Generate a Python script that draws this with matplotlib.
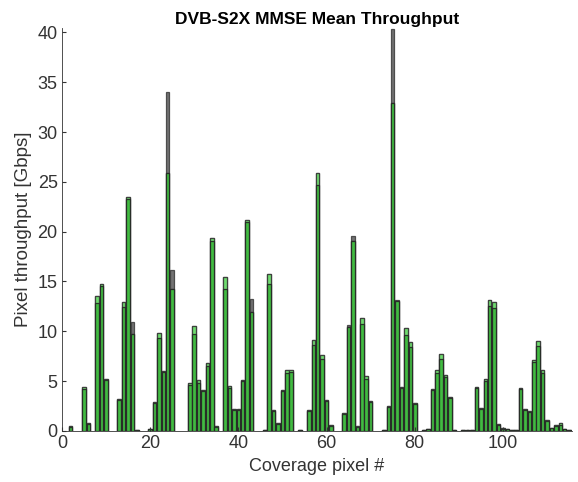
import matplotlib
matplotlib.use('Agg')
import matplotlib.pyplot as plt

# coverage pixels with a visible bar
pixel_ids = [2, 5, 6, 8, 9, 10, 13, 14, 15, 16, 17, 20, 21, 22, 23, 24, 25,
             29, 30, 31, 32, 33, 34, 35, 37, 38, 39, 40, 41, 42, 43,
             46, 47, 48, 49, 50, 51, 52, 54, 56, 57, 58, 59, 60, 61,
             64, 65, 66, 67, 68, 69, 70, 73, 74, 75, 76, 77, 78, 79, 80,
             82, 83, 84, 85, 86, 87, 88, 89, 91, 92, 93, 94, 95, 96, 97, 98, 99,
             100, 101, 102, 103, 104, 105, 106, 107, 108, 109, 110, 111, 112, 113, 114, 115]

# upper bound (gray), light green and green throughput [Gbps]
gray_vals = [0.5, 4.4, 0.8, 13.5, 14.7, 5.2, 3.2, 12.9, 23.5, 10.9, 0.05, 0.2, 2.9, 9.8, 6.0, 34.0, 16.2,
             4.8, 10.5, 5.1, 4.1, 6.8, 19.4, 0.5, 15.4, 4.5, 2.2, 2.2, 5.1, 21.2, 13.2,
             0.1, 15.8, 2.1, 0.8, 4.1, 6.1, 6.1, 0.1, 2.1, 9.1, 25.9, 7.6, 3.1, 0.6,
             1.8, 10.6, 19.6, 0.5, 11.3, 5.5, 3.0, 0.05, 2.5, 40.3, 13.1, 4.4, 10.3, 8.9, 2.8,
             0.05, 0.2, 4.2, 6.1, 7.7, 5.6, 3.4, 0.1, 0.05, 0.05, 0.1, 4.4, 2.3, 5.2, 13.1, 12.9, 0.7,
             0.3, 0.2, 0.1, 0.1, 4.3, 2.2, 2.0, 7.1, 9.0, 6.1, 1.1, 0.3, 0.6, 0.8, 0.2, 0.05]
light_vals = [0.5, 4.4, 0.8, 13.5, 14.7, 5.2, 3.2, 12.9, 23.5, 9.7, 0.05, 0.2, 2.9, 9.8, 6.0, 25.9, 14.2,
              4.8, 10.5, 5.1, 4.1, 6.8, 19.4, 0.5, 15.4, 4.5, 2.2, 2.2, 5.1, 21.2, 11.9,
              0.1, 15.8, 2.1, 0.8, 4.1, 6.1, 6.1, 0.1, 2.1, 9.1, 25.9, 7.6, 3.1, 0.6,
              1.8, 10.4, 19.1, 0.5, 11.3, 5.5, 3.0, 0.05, 2.5, 32.9, 13.0, 4.4, 10.3, 8.9, 2.8,
              0.05, 0.2, 4.2, 6.1, 7.7, 5.6, 3.4, 0.1, 0.05, 0.05, 0.1, 4.4, 2.3, 5.2, 13.1, 12.9, 0.7,
              0.3, 0.2, 0.1, 0.1, 4.3, 2.2, 2.0, 7.1, 9.0, 6.1, 1.1, 0.3, 0.6, 0.8, 0.2, 0.05]
green_vals = [0.4, 4.2, 0.7, 12.8, 14.5, 5.1, 3.1, 12.4, 23.3, 9.7, 0.05, 0.2, 2.8, 9.3, 5.9, 25.9, 14.2,
              4.6, 9.7, 4.8, 4.0, 6.5, 19.1, 0.4, 14.2, 4.3, 2.1, 2.1, 5.0, 21.0, 11.9,
              0.1, 14.7, 2.0, 0.7, 4.0, 5.8, 5.9, 0.1, 2.0, 8.6, 24.7, 7.2, 3.0, 0.5,
              1.7, 10.4, 19.1, 0.4, 10.7, 5.2, 2.9, 0.05, 2.4, 32.9, 13.0, 4.3, 9.6, 8.4, 2.7,
              0.05, 0.2, 4.1, 5.8, 7.2, 5.4, 3.3, 0.1, 0.05, 0.05, 0.1, 4.3, 2.2, 5.0, 12.5, 12.3, 0.6,
              0.2, 0.2, 0.1, 0.1, 4.2, 2.1, 1.9, 6.9, 8.5, 5.8, 1.0, 0.3, 0.5, 0.6, 0.2, 0.05]

plt.rcParams['font.family'] = ['Liberation Sans', 'DejaVu Sans']

fig = plt.figure(figsize=(5.78, 4.82), dpi=100)
ax = fig.add_axes([0.107, 0.106, 0.883, 0.835])

ax.bar(pixel_ids, gray_vals, width=0.8, color='#5a5a5a', alpha=0.85,
       edgecolor='#3a3a3a', linewidth=0.9)
ax.bar(pixel_ids, light_vals, width=0.8, color='#6fe86f', alpha=0.9,
       edgecolor='#3a3a3a', linewidth=0.9)
ax.bar(pixel_ids, green_vals, width=0.8, color='#3cb83c', alpha=0.9,
       edgecolor='#262626', linewidth=0.9)

ax.set_xlim(0, 115.7)
ax.set_ylim(0, 40.4)
ax.set_xticks([0, 20, 40, 60, 80, 100])
ax.set_yticks([0, 5, 10, 15, 20, 25, 30, 35, 40])
ax.tick_params(direction='in', labelsize=13, colors='#333333', length=3, pad=3)
for s in ['top', 'right']:
    ax.spines[s].set_visible(False)
for s in ['left', 'bottom']:
    ax.spines[s].set_color('#333333')
    ax.spines[s].set_linewidth(0.6)

ax.set_xlabel('Coverage pixel #', fontsize=13, color='#333333', labelpad=4)
ax.set_ylabel('Pixel throughput [Gbps]', fontsize=13.5, color='#333333', labelpad=4)
ax.set_title('DVB-S2X MMSE Mean Throughput', fontsize=12.5, fontweight='bold', pad=3)

fig.savefig('out.png', dpi=100)
